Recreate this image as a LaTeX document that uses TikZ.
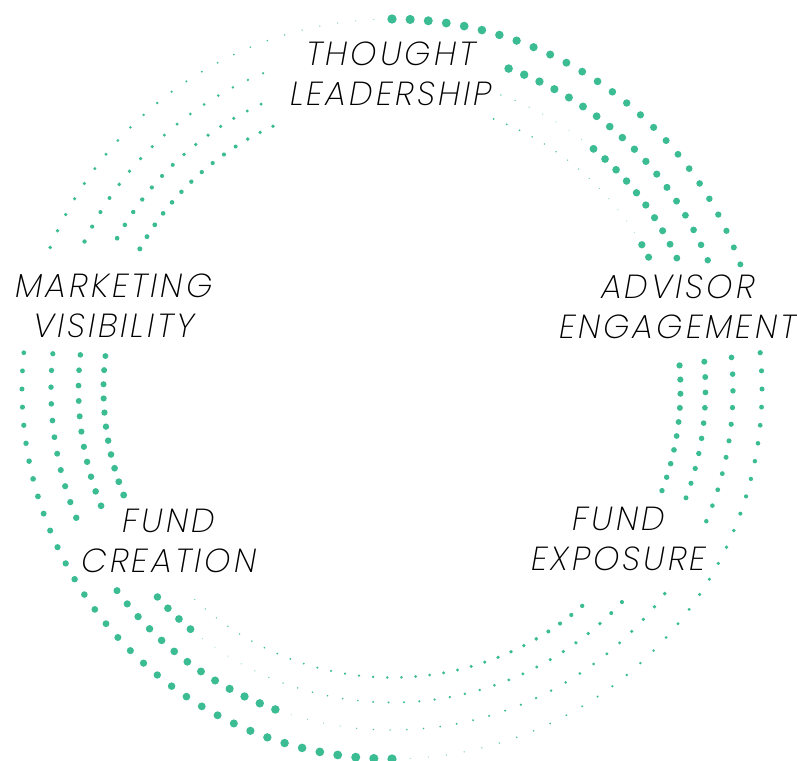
\documentclass[tikz,border=0pt]{standalone}
\usepackage{fontspec}
\IfFontExistsTF{Poppins ExtraLight Italic}
  {\newfontfamily\labelfont{Poppins ExtraLight Italic}[LetterSpace=9]}
  {\newfontfamily\labelfont{Poppins Light Italic}[LetterSpace=9]}
\definecolor{dotgreen}{HTML}{3BBC93}

\tikzset{
  declare function={gap(\x,\lo,\hi)=and(\x>\lo,\x<\hi);},
  dotfill/.style={fill=dotgreen},
  ringlabel/.style={font=\labelfont\fontsize{25}{30}\selectfont, align=center, inner sep=0pt},
}

% 128 dots on a ring: they grow anticlockwise and drop back at #2 and #2+180
\newcommand\dotring[3]{%
  \foreach \j in {0,...,127}{%
    \pgfmathsetmacro\ang{mod(#2-\j*2.8125+720,360)}%
    \pgfmathtruncatemacro\hide{#3}%
    \ifnum\hide=0
      \pgfmathsetmacro\rad{#1/370*(0.35+4.3*(1-mod(\j,64)/64))}%
      \fill[dotfill] (\ang:#1) circle (\rad);
    \fi
  }}

\begin{document}
\begin{tikzpicture}[x=0.75pt, y=0.75pt]
\useasboundingbox (-392,-372) rectangle (405,389);

% the four rings, outer to inner
\dotring{370}{90}{gap(\ang,159,173)+gap(\ang,7,18.3)}
\dotring{341}{70}{gap(\ang,71.5,111)+gap(\ang,6.7,20.8)+gap(\ang,155.8,172.7)+gap(\ang,203.6,214.8)+gap(\ang,324.5,335.8)}
\dotring{313.5}{50}{gap(\ang,71,113)+gap(\ang,6.4,23.3)+gap(\ang,152.7,172.4)+gap(\ang,203.3,220.2)+gap(\ang,318.3,338.3)}
\dotring{288.5}{30}{gap(\ang,71,113)+gap(\ang,6,25.8)+gap(\ang,152.4,172)+gap(\ang,203,225.5)+gap(\ang,312.5,338)}

% labels
\node[ringlabel] (thought) at (-1,315) {THOUGHT\\LEADERSHIP};
\node[ringlabel] (advisor) at (286,82) {ADVISOR\\ENGAGEMENT};
\node[ringlabel] (marketing) at (-278,83) {MARKETING\\VISIBILITY};
\node[ringlabel] (creation) at (-223,-152) {FUND\\CREATION};
\node[ringlabel] (exposure) at (227,-150) {FUND\\EXPOSURE};

\end{tikzpicture}
\end{document}
